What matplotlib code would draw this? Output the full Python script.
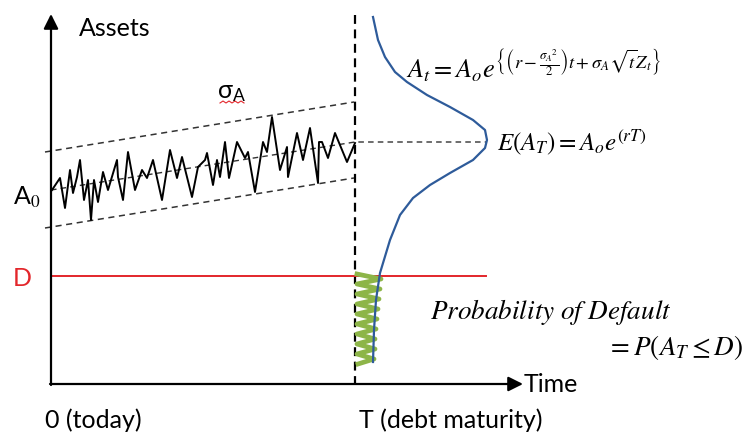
import matplotlib.pyplot as plt
import numpy as np

plt.rcParams['font.family'] = ['Lato', 'DejaVu Sans']
plt.rcParams['mathtext.fontset'] = 'stix'

# picture units: x from left, y from top (pixels of the 747x433 sketch)
# simulated asset path
walk_x = [52, 60, 65, 70, 73, 77, 80, 84, 88, 91, 94, 98, 103, 108, 117, 118, 123,
          128, 135, 142, 147, 153, 162, 170, 177, 182, 192, 198, 205, 207, 213, 217,
          220, 225, 229, 237, 245, 248, 255, 263, 267, 272, 280, 287, 288, 297, 303,
          310, 318, 319, 322, 328, 335, 347, 355]
walk_y = [190, 178, 208, 170, 193, 177, 160, 200, 180, 220, 180, 202, 172, 190, 160,
          177, 200, 152, 190, 170, 178, 160, 200, 150, 178, 157, 197, 167, 160, 153,
          185, 160, 177, 142, 178, 142, 158, 152, 192, 142, 152, 117, 170, 147, 177,
          133, 160, 128, 183, 142, 142, 158, 133, 162, 143]

# volatility band and drift line
band_x = [45, 354]
upper_y = [152, 102]
lower_y = [228, 178]
drift_x = [51, 355, 487]
drift_y = [190, 142, 142]

# distribution of A_T at maturity
dens_y = [17, 40, 57, 72, 82, 95, 107, 120, 130, 140, 148, 160, 173, 185, 198,
          215, 240, 273, 300, 330, 362]
dens_x = [373, 378, 385, 395, 407, 427, 450, 473, 485, 487, 485, 473, 450, 430, 413,
          400, 390, 380, 376, 374, 373]

# default region hatching below D
pd_y = [274, 279, 284, 289, 294, 299, 304, 309, 314, 319, 324, 329, 334, 339, 344,
        349, 354, 359, 364]
pd_x = [357, 381, 357, 380, 357, 379, 357, 378, 357, 377, 357, 376, 357, 375, 357,
        375, 357, 374, 358]

# spell-check squiggle under sigma_A
squig_x = [220, 223, 226, 229, 232, 235, 238, 241, 244]
squig_y = [103, 101, 103, 101, 103, 101, 103, 101, 103]

debt_y = 276
t0_x, tT_x = 51, 355
axis_y = 384

fig = plt.figure(figsize=(7.47, 4.33), dpi=100)
ax = fig.add_axes([0, 0, 1, 1])
ax.set_xlim(0, 747)
ax.set_ylim(433, 0)
ax.axis('off')

# axes with arrows
ax.annotate('', xy=(t0_x, 14), xytext=(t0_x, axis_y + 1),
            arrowprops=dict(arrowstyle='-|>', lw=1.6, color='black',
                            mutation_scale=22, shrinkA=0, shrinkB=0))
ax.annotate('', xy=(523, axis_y), xytext=(t0_x - 1, axis_y),
            arrowprops=dict(arrowstyle='-|>', lw=1.6, color='black',
                            mutation_scale=22, shrinkA=0, shrinkB=0))

# maturity line
ax.plot([tT_x, tT_x], [15, axis_y], color='black', lw=1.6, dashes=(4, 2.5))

# band and drift
ax.plot(band_x, upper_y, color='#333333', lw=1.1, dashes=(4, 3))
ax.plot(band_x, lower_y, color='#333333', lw=1.1, dashes=(4, 3))
ax.plot(drift_x, drift_y, color='#333333', lw=1.0, dashes=(4, 3))

ax.plot(walk_x, walk_y, color='black', lw=1.4)

# debt level
ax.plot([t0_x, 486], [debt_y, debt_y], color='#e3262b', lw=1.4)

# default probability region
ax.plot(pd_x, pd_y, color='#8db548', lw=3.4, solid_joinstyle='round')
ax.plot(dens_x, dens_y, color='#2e5b9a', lw=1.6)

ax.plot(squig_x, squig_y, color='#e3262b', lw=0.8)

# labels
ax.text(79, 28, 'Assets', fontsize=18, va='center', ha='left')
ax.text(13, 197, r'A$_0$', fontsize=18, va='center', ha='left')
ax.text(22, 279, 'D', fontsize=18, va='center', ha='center', color='#e3262b')
ax.text(232, 93, r'σ$_\mathregular{A}$', fontsize=18, va='center', ha='center')
ax.text(524, 384, 'Time', fontsize=18, va='center', ha='left')
ax.text(45, 420, '0 (today)', fontsize=18, va='center', ha='left')
ax.text(359, 420, 'T (debt maturity)', fontsize=18, va='center', ha='left')

ax.text(406, 66,
        r'$A_t = A_o e^{\left\{\left(r-\frac{\sigma_A{}^2}{2}\right)t+\sigma_A\sqrt{t}Z_t\right\}}$',
        fontsize=19, va='center', ha='left')
ax.text(497, 142, r'$E(A_T) = A_o e^{(rT)}$', fontsize=18, va='center', ha='left')
ax.text(430, 312, r'$Probability\ of\ Default$', fontsize=19.5, va='center', ha='left')
ax.text(743, 347, r'$= P(A_T \leq D)$', fontsize=19.5, va='center', ha='right')

fig.savefig('out.png', dpi=100)
